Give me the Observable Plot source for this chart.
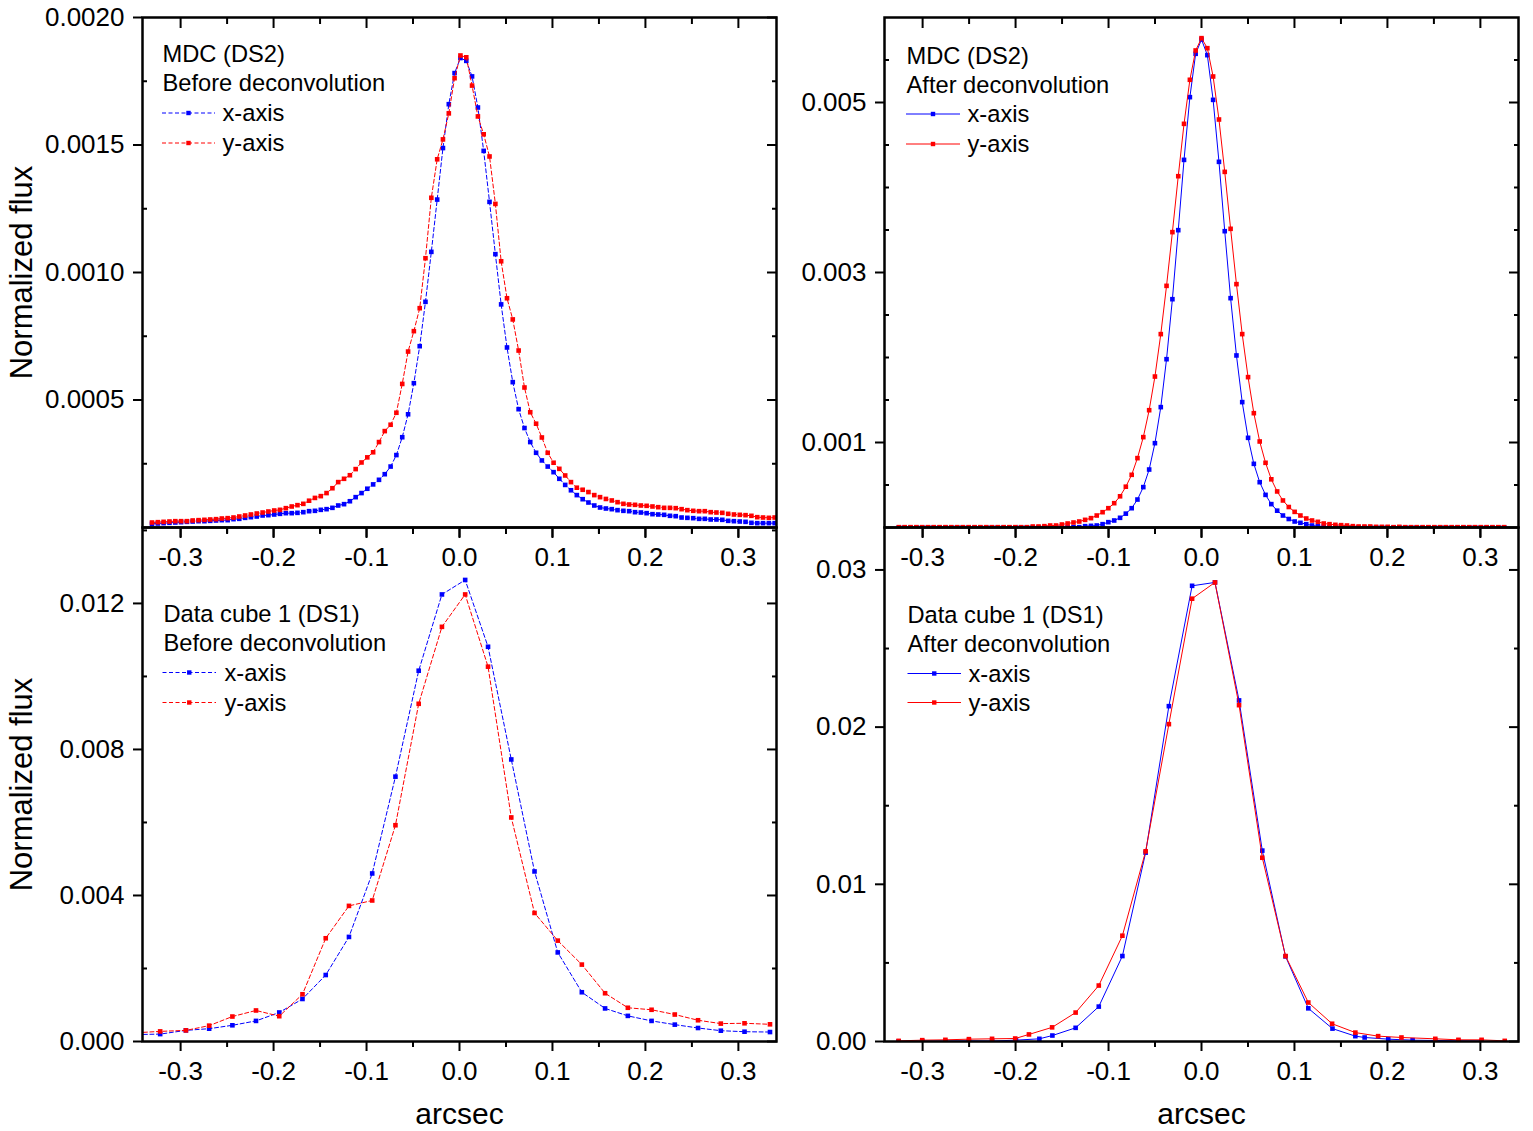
<!DOCTYPE html>
<html>
<head>
<meta charset="utf-8">
<script src="https://cdn.jsdelivr.net/npm/d3@7"></script>
<script src="https://cdn.jsdelivr.net/npm/@observablehq/plot@0.6"></script>
<style>
  body { margin: 0; background: #fff; }
  #chart { position: relative; width: 1533px; height: 1131px; background: #fff; overflow: hidden; }
  #chart svg { position: absolute; }
</style>
</head>
<body>
<div id="chart"></div>
<script>
// ---------------- DATA ----------------
// Top-left: MDC (DS2), before deconvolution
const tlArcsec = [
 -0.3308,-0.3245,-0.3183,-0.3120,-0.3057,-0.2995,-0.2932,-0.2870,-0.2807,-0.2744,
 -0.2682,-0.2619,-0.2557,-0.2494,-0.2431,-0.2369,-0.2306,-0.2244,-0.2181,-0.2118,
 -0.2056,-0.1993,-0.1931,-0.1868,-0.1805,-0.1743,-0.1680,-0.1618,-0.1555,-0.1492,
 -0.1430,-0.1367,-0.1305,-0.1242,-0.1179,-0.1117,-0.1054,-0.0992,-0.0929,-0.0866,
 -0.0804,-0.0741,-0.0679,-0.0616,-0.0553,-0.0491,-0.0428,-0.0366,-0.0303,-0.0240,
 -0.0178,-0.0115,-0.0053,0.0010,0.0073,0.0135,0.0198,0.0260,0.0323,0.0386,
 0.0448,0.0511,0.0573,0.0636,0.0699,0.0761,0.0824,0.0886,0.0949,0.1012,
 0.1074,0.1137,0.1199,0.1262,0.1325,0.1387,0.1450,0.1512,0.1575,0.1638,
 0.1700,0.1763,0.1825,0.1888,0.1951,0.2013,0.2076,0.2138,0.2201,0.2264,
 0.2326,0.2389,0.2451,0.2514,0.2577,0.2639,0.2702,0.2764,0.2827,0.2890,
 0.2952,0.3015,0.3077,0.3140,0.3203,0.3265,0.3328,0.3390];
const tlXProfile = [
 0.0000144,0.0000157,0.000017,0.0000183,0.0000196,0.0000209,0.0000222,0.0000235,0.0000248,0.0000248,
 0.0000261,0.0000275,0.0000288,0.0000288,0.0000327,0.000034,0.0000379,0.0000405,0.0000431,0.0000471,
 0.0000484,0.000051,0.0000536,0.0000562,0.0000562,0.0000575,0.0000601,0.000064,0.0000654,0.0000693,
 0.0000719,0.0000771,0.0000863,0.0000915,0.000103,0.000119,0.000135,0.000152,0.000169,0.000187,
 0.000209,0.000239,0.000284,0.000354,0.000444,0.000566,0.000711,0.000885,0.001081,0.001286,
 0.001488,0.001660,0.001782,0.001841,0.001830,0.001769,0.001647,0.001477,0.001277,0.001072,
 0.000875,0.000706,0.000570,0.000464,0.000390,0.000335,0.000293,0.000263,0.000239,0.000217,
 0.000191,0.000167,0.000146,0.000127,0.000111,0.000098,0.0000863,0.0000784,0.0000745,0.0000719,
 0.000068,0.0000654,0.000064,0.0000601,0.0000588,0.0000562,0.0000523,0.000051,0.0000497,0.0000458,
 0.0000444,0.0000392,0.0000379,0.0000366,0.000034,0.000034,0.0000314,0.0000314,0.0000301,0.0000261,
 0.0000248,0.0000235,0.0000222,0.0000183,0.000017,0.000017,0.000017,0.000017];
const tlYProfile = [
 0.0000196,0.0000209,0.0000222,0.0000235,0.0000248,0.0000248,0.0000248,0.0000275,0.0000288,0.0000301,
 0.0000314,0.0000327,0.0000353,0.0000366,0.0000392,0.0000431,0.0000471,0.000051,0.0000549,0.0000588,
 0.0000627,0.0000667,0.0000693,0.0000758,0.0000824,0.0000876,0.0000928,0.000105,0.000116,0.000123,
 0.000135,0.000154,0.000178,0.000191,0.000205,0.000229,0.000255,0.000275,0.000295,0.000335,
 0.000378,0.000403,0.000450,0.000563,0.000690,0.000770,0.000860,0.001056,0.001293,0.001444,
 0.001522,0.001624,0.001762,0.001851,0.001844,0.001733,0.001612,0.001542,0.001455,0.001269,
 0.001044,0.000899,0.000816,0.000694,0.000549,0.000452,0.000407,0.000353,0.000293,0.000254,
 0.000230,0.000204,0.000178,0.000156,0.000148,0.000139,0.000127,0.000119,0.000112,0.000106,
 0.0000993,0.0000928,0.0000902,0.0000889,0.0000863,0.000085,0.0000824,0.0000797,0.0000771,0.0000771,
 0.0000758,0.0000719,0.000068,0.0000654,0.000064,0.000064,0.0000601,0.0000588,0.0000575,0.0000536,
 0.000051,0.0000497,0.0000484,0.0000458,0.0000405,0.0000392,0.0000379,0.0000392];

// Top-right: MDC (DS2), after deconvolution
const trArcsec = [
 -0.3255,-0.3193,-0.3130,-0.3067,-0.3005,-0.2942,-0.2880,-0.2817,-0.2754,-0.2692,
 -0.2629,-0.2567,-0.2504,-0.2441,-0.2379,-0.2316,-0.2254,-0.2191,-0.2128,-0.2066,
 -0.2003,-0.1941,-0.1878,-0.1815,-0.1753,-0.1690,-0.1628,-0.1565,-0.1502,-0.1440,
 -0.1377,-0.1315,-0.1252,-0.1189,-0.1127,-0.1064,-0.1002,-0.0939,-0.0876,-0.0814,
 -0.0751,-0.0689,-0.0626,-0.0563,-0.0501,-0.0438,-0.0376,-0.0313,-0.0250,-0.0188,
 -0.0125,-0.0063,0.0000,0.0063,0.0125,0.0188,0.0250,0.0313,0.0376,0.0438,
 0.0501,0.0563,0.0626,0.0689,0.0751,0.0814,0.0876,0.0939,0.1002,0.1064,
 0.1127,0.1189,0.1252,0.1315,0.1377,0.1440,0.1502,0.1565,0.1628,0.1690,
 0.1753,0.1815,0.1878,0.1941,0.2003,0.2066,0.2128,0.2191,0.2254,0.2316,
 0.2379,0.2441,0.2504,0.2567,0.2629,0.2692,0.2754,0.2817,0.2880,0.2942,
 0.3005,0.3067,0.3130,0.3193,0.3255];
const trXProfile = [
 0.000002,0.000002,0.000002,0.000002,0.000002,0.000002,0.000002,0.000002,0.000002,0.000002,
 0.000002,0.000002,0.000002,0.000002,0.000002,0.000002,0.000002,0.000002,0.000002,0.000002,
 0.000002,0.000002,0.000002,0.000002,0.000002,0.000002,0.000002,0.000002,0.000003,0.000003,
 0.000003,0.0000039,0.0000157,0.0000196,0.0000235,0.0000392,0.0000627,0.0000824,0.000114,0.000163,
 0.000227,0.000329,0.000475,0.000682,0.000992,0.001416,0.001980,0.002686,0.003498,0.004325,
 0.005063,0.005573,0.005741,0.005557,0.005031,0.004302,0.003486,0.002698,0.002024,0.001475,
 0.001055,0.000749,0.000533,0.000384,0.000275,0.000198,0.000141,0.000100,0.0000706,0.000055,
 0.0000392,0.0000235,0.0000157,0.0000118,0.000004,0.000003,0.000003,0.000002,0.000002,0.000002,
 0.000002,0.000002,0.000002,0.000002,0.000002,0.000002,0.000002,0.000002,0.000002,0.000002,
 0.000002,0.000002,0.000002,0.000002,0.000002,0.000002,0.000002,0.000002,0.000002,0.000002,
 0.000002,0.000002,0.000002,0.000002,0.000002];
const trYProfile = [
 0.000004,0.000004,0.000004,0.000004,0.000004,0.000004,0.000004,0.000004,0.000004,0.000004,
 0.000004,0.000004,0.000004,0.000004,0.000004,0.000004,0.000004,0.000004,0.000004,0.000004,
 0.000004,0.000004,0.000004,0.0000118,0.0000118,0.0000157,0.0000235,0.0000235,0.0000353,0.000047,
 0.0000588,0.0000706,0.000090,0.00011,0.000141,0.00018,0.000227,0.000286,0.000367,0.000480,
 0.000620,0.000816,0.001063,0.001380,0.001776,0.002275,0.002843,0.003475,0.004133,0.004749,
 0.005267,0.005612,0.005757,0.005639,0.005306,0.004800,0.004184,0.003514,0.002863,0.002275,
 0.001769,0.001345,0.001012,0.000761,0.000567,0.000424,0.000318,0.000241,0.000184,0.000141,
 0.000106,0.0000824,0.0000667,0.000047,0.0000392,0.0000314,0.0000275,0.0000235,0.0000157,0.0000118,
 0.0000118,0.0000118,0.0000078,0.0000078,0.0000078,0.000004,0.0000078,0.000004,0.000004,0.000004,
 0.000004,0.000004,0.000004,0.000004,0.000004,0.000004,0.000004,0.000004,0.000004,0.000004,
 0.000004,0.000004,0.000004,0.000004,0.000004];

// Bottom-left: Data cube 1 (DS1), before deconvolution
const blArcsec = [-0.347,-0.322,-0.2943,-0.2693,-0.2443,-0.2189,-0.1939,-0.1689,-0.1439,-0.1189,
 -0.0939,-0.0689,-0.0439,-0.0189,0.0061,0.0307,0.0557,0.0807,0.1057,0.1316,
 0.1566,0.1811,0.2066,0.2316,0.2566,0.2811,0.3066,0.334];
const blXProfile = [0.000190,0.000203,0.000305,0.000351,0.000444,0.000564,0.000795,0.001165,0.001821,0.002865,
 0.004603,0.007255,0.010157,0.012246,0.012643,0.010813,0.007726,0.004658,0.00244,0.001349,
 0.000906,0.000702,0.000564,0.000462,0.00037,0.000296,0.000268,0.000259];
const blYProfile = [0.00024,0.000277,0.000305,0.000434,0.000684,0.00085,0.000693,0.001294,0.002828,0.003715,
 0.003863,0.005924,0.009251,0.011359,0.012246,0.010268,0.006137,0.003521,0.002763,0.002107,
 0.001322,0.000924,0.000869,0.000739,0.000582,0.00049,0.000499,0.000471];

// Bottom-right: Data cube 1 (DS1), after deconvolution
const brXArcsec = [-0.3258,-0.3004,-0.2755,-0.2502,-0.2253,-0.1996,-0.1744,-0.1604,-0.1354,-0.1105,
 -0.0851,-0.0601,-0.0351,-0.0101,0.0145,0.0404,0.0654,0.0904,0.1149,0.1409,
 0.1655,0.1755,0.2009,0.2271,0.2515,0.2764,0.3013];
const brXProfile = [0.00001,0.00002,0.00003,0.00004,0.00003,0.000085,0.00017,0.00038,0.00087,0.00222,
 0.005436,0.012015,0.021333,0.028991,0.029206,0.0217,0.012144,0.005414,0.00211,0.00082,
 0.00034,0.000255,0.000149,0.000085,0.000064,0.000042,0.00003];
const brYArcsec = [-0.3258,-0.3004,-0.2755,-0.2502,-0.2253,-0.2004,-0.1856,-0.1607,-0.1354,-0.1105,
 -0.0851,-0.0601,-0.0351,-0.0101,0.0145,0.0404,0.0654,0.0904,0.1149,0.1405,
 0.1655,0.1900,0.2151,0.2515,0.2764,0.3013,0.3262];
const brYProfile = [0.00004,0.000085,0.000106,0.000149,0.00017,0.00019,0.00045,0.0009,0.00184,0.00356,
 0.00673,0.0121,0.02019,0.028171,0.029206,0.021398,0.011691,0.005436,0.00248,0.00113,
 0.000567,0.00034,0.000255,0.00017,0.000106,0.000106,0.00004];

// Ticks and labels
const xMajorTicks = [-0.3,-0.2,-0.1,0,0.1,0.2,0.3];
const xMinorTicks = [-0.25,-0.15,-0.05,0.05,0.15,0.25];
const tlYMajor = [0.0005,0.001,0.0015,0.002];
const tlYMinor = [0.00025,0.00075,0.00125,0.00175];
const trYMajor = [0.001,0.003,0.005];
const trYMinor = [0.0005,0.0015,0.002,0.0025,0.0035,0.004,0.0045,0.0055];
const blYMajor = [0,0.004,0.008,0.012];
const blYMinor = [0.002,0.006,0.010,0.014];
const brYMajor = [0,0.01,0.02,0.03];
const brYMinor = [0.005,0.015,0.025];
const seriesNames = ["x-axis","y-axis"];
const yTitle = "Normalized flux";
const xTitle = "arcsec";

// ---------------- DRAWING ----------------
const FONT = '"Liberation Sans", Arial, Helvetica, sans-serif';
const BLUE = "#0000ff", RED = "#ff0000";
const rows = (xs, ys) => xs.map((x, i) => ({arcsec: x, flux: ys[i]}));
const blank = () => "";
const chart = document.getElementById("chart");
const swatches = [];

function panel(cfg) {
  const [fl, ft, fr, fb] = cfg.frame;
  const [sl, st, sw, sh] = cfg.svg;
  const marks = [];
  const dash = cfg.dashed ? "4,2.5" : null;
  cfg.series.forEach(s => {
    marks.push(Plot.line(s.data, {x: "arcsec", y: "flux", stroke: s.color, strokeWidth: 1, strokeDasharray: dash, clip: true}));
    marks.push(Plot.dot(s.data, {x: "arcsec", y: "flux", symbol: "square", r: 2.6, fill: s.color, clip: true}));
  });
  marks.push(
    Plot.axisX(xMajorTicks, {anchor: "bottom", tickSize: 10, tickPadding: 10, tickFormat: d => d.toFixed(1), fontSize: 26, strokeWidth: 2, label: null, fill: "black"}),
    Plot.axisX(xMinorTicks, {anchor: "bottom", tickSize: 6, tickFormat: blank, strokeWidth: 2, label: null}),
    Plot.axisX(xMajorTicks, {anchor: "top", tickSize: 10, dy: 10, tickFormat: blank, strokeWidth: 2, label: null}),
    Plot.axisX(xMinorTicks, {anchor: "top", tickSize: 6, dy: 6, tickFormat: blank, strokeWidth: 2, label: null}),
    Plot.axisY(cfg.yMajor, {anchor: "left", tickSize: 9, tickPadding: 9, tickFormat: cfg.yFormat, fontSize: 26, strokeWidth: 2, label: null, fill: "black"}),
    Plot.axisY(cfg.yMinor, {anchor: "left", tickSize: 5, dx: 5, tickFormat: blank, strokeWidth: 2, label: null}),
    Plot.axisY(cfg.yMajor, {anchor: "right", tickSize: 10, dx: -10, tickFormat: blank, strokeWidth: 2, label: null}),
    Plot.axisY(cfg.yMinor, {anchor: "right", tickSize: 5, dx: -5, tickFormat: blank, strokeWidth: 2, label: null}),
    Plot.frame({stroke: "black", strokeWidth: 2.5})
  );
  // annotation block
  cfg.notes.forEach((t, i) => {
    marks.push(Plot.text([t], {text: d => d, frameAnchor: "top-left", textAnchor: "start", lineAnchor: "middle",
      dx: cfg.noteDx, dy: cfg.noteDy[i], fontSize: 23.7, fill: "black"}));
  });
  seriesNames.forEach((t, i) => {
    marks.push(Plot.text([t], {text: d => d, frameAnchor: "top-left", textAnchor: "start", lineAnchor: "middle",
      dx: cfg.legendDx, dy: cfg.legendDy[i], fontSize: 23.7, fill: "black"}));
    swatches.push({x0: fl + cfg.swatch[0], x1: fl + cfg.swatch[1], y: ft + cfg.legendDy[i],
      color: cfg.series[i].color, dashed: cfg.dashed});
  });
  if (cfg.yTitle) marks.push(Plot.text([yTitle], {text: d => d, frameAnchor: "left", dx: -120, rotate: -90,
      textAnchor: "middle", lineAnchor: "middle", fontSize: 31, fill: "black"}));
  if (cfg.xTitle) marks.push(Plot.text([xTitle], {text: d => d, frameAnchor: "bottom", dy: 73,
      textAnchor: "middle", lineAnchor: "middle", fontSize: 30, fill: "black"}));

  const svg = Plot.plot({
    width: sw, height: sh,
    marginLeft: fl - sl, marginRight: sl + sw - fr, marginTop: ft - st, marginBottom: st + sh - fb,
    x: {domain: [-0.341, 0.341], axis: null, label: null},
    y: {domain: cfg.yDomain, axis: null, label: null},
    style: {fontFamily: FONT, fontSize: "26px", color: "black", background: "transparent", overflow: "visible"},
    marks
  });
  svg.style.left = sl + "px";
  svg.style.top = st + "px";
  chart.appendChild(svg);
}

panel({
  frame: [142, 17, 776, 527], svg: [0, 0, 800, 600],
  yDomain: [0, 0.002], yMajor: tlYMajor, yMinor: tlYMinor, yFormat: d => d.toFixed(4),
  dashed: true,
  series: [{data: rows(tlArcsec, tlXProfile), color: BLUE}, {data: rows(tlArcsec, tlYProfile), color: RED}],
  notes: ["MDC (DS2)", "Before deconvolution"], noteDx: 20, noteDy: [37, 66],
  legendDx: 80, legendDy: [96, 126], swatch: [20, 73],
  yTitle: true, xTitle: false
});
panel({
  frame: [884, 17, 1518, 527], svg: [784, 0, 749, 600],
  yDomain: [0, 0.006], yMajor: trYMajor, yMinor: trYMinor, yFormat: d => d.toFixed(3),
  dashed: false,
  series: [{data: rows(trArcsec, trXProfile), color: BLUE}, {data: rows(trArcsec, trYProfile), color: RED}],
  notes: ["MDC (DS2)", "After deconvolution"], noteDx: 22, noteDy: [38.5, 68],
  legendDx: 83, legendDy: [97, 127], swatch: [22, 76],
  yTitle: false, xTitle: false
});
panel({
  frame: [142, 527, 776, 1041], svg: [0, 500, 800, 631],
  yDomain: [0, 0.01408], yMajor: blYMajor, yMinor: blYMinor, yFormat: d => d.toFixed(3),
  dashed: true,
  series: [{data: rows(blArcsec, blXProfile), color: BLUE}, {data: rows(blArcsec, blYProfile), color: RED}],
  notes: ["Data cube 1 (DS1)", "Before deconvolution"], noteDx: 21, noteDy: [86.5, 116],
  legendDx: 82, legendDy: [145.5, 175.5], swatch: [20.5, 74],
  yTitle: true, xTitle: true
});
panel({
  frame: [884, 527, 1518, 1041], svg: [784, 500, 749, 631],
  yDomain: [0, 0.0327], yMajor: brYMajor, yMinor: brYMinor, yFormat: d => d.toFixed(2),
  dashed: false,
  series: [{data: rows(brXArcsec, brXProfile), color: BLUE}, {data: rows(brYArcsec, brYProfile), color: RED}],
  notes: ["Data cube 1 (DS1)", "After deconvolution"], noteDx: 23, noteDy: [87.5, 116.5],
  legendDx: 84, legendDy: [146.5, 175.5], swatch: [23.5, 77],
  yTitle: false, xTitle: true
});

// legend swatches (line + square marker)
const ov = d3.select(chart).append("svg")
  .attr("width", 1533).attr("height", 1131)
  .style("left", "0px").style("top", "0px").style("pointer-events", "none");
swatches.forEach(s => {
  ov.append("line").attr("x1", s.x0).attr("x2", s.x1).attr("y1", s.y).attr("y2", s.y)
    .attr("stroke", s.color).attr("stroke-width", 1).attr("stroke-dasharray", s.dashed ? "4,2.5" : null);
  const cx = (s.x0 + s.x1) / 2;
  ov.append("rect").attr("x", cx - 2.2).attr("y", s.y - 2.2).attr("width", 4.4).attr("height", 4.4).attr("fill", s.color);
});
</script>
</body>
</html>
